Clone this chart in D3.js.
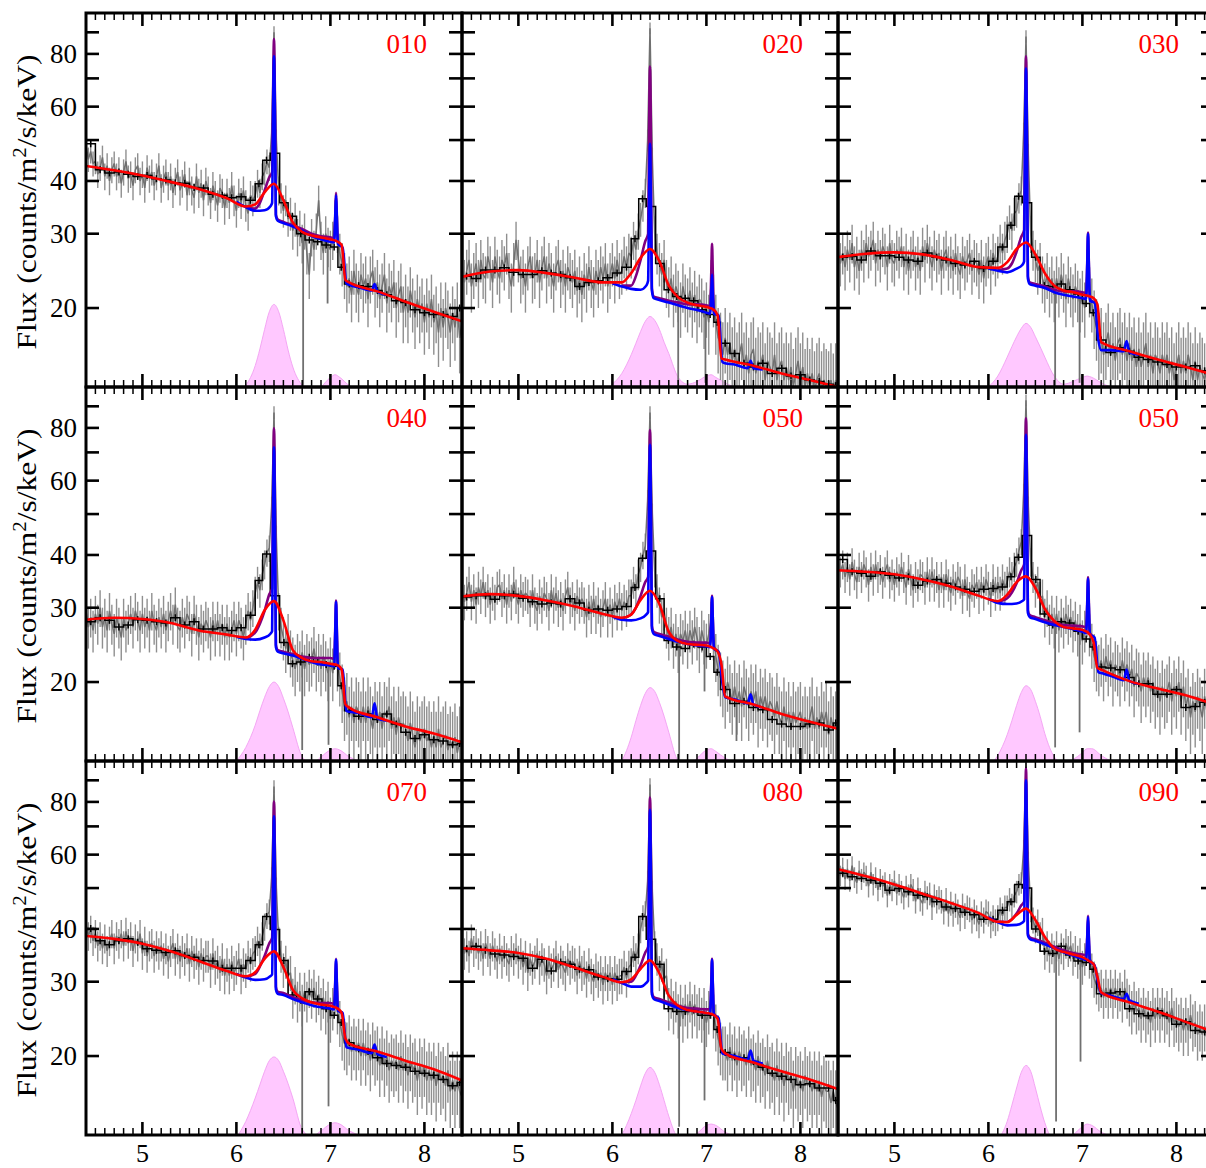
<!DOCTYPE html>
<html>
<head>
<meta charset="utf-8">
<script src="https://cdn.jsdelivr.net/npm/d3@7"></script>
<style>
  body { margin: 0; background: #fff; }
  svg { display: block; }
</style>
</head>
<body>
<svg id="fig" width="1206" height="1168" font-family="Liberation Serif, DejaVu Serif, serif"></svg>
<script>
// ---------------- data ----------------
const panelLabels = ["010", "020", "030", "040", "050", "050", "070", "080", "090"];

// energies of the plotted spectral channels (keV)
const channelKeV = [
  4.400,4.425,4.450,4.475,4.500,4.525,4.550,4.575,4.600,4.625,4.650,4.675,4.700,4.725,4.750,4.775,4.800,4.825,4.850,4.875,
  4.900,4.925,4.950,4.975,5.000,5.025,5.050,5.075,5.100,5.125,5.150,5.175,5.200,5.225,5.250,5.275,5.300,5.325,5.350,5.375,
  5.400,5.425,5.450,5.475,5.500,5.525,5.550,5.575,5.600,5.625,5.650,5.675,5.700,5.725,5.750,5.775,5.800,5.825,5.850,5.875,
  5.900,5.925,5.950,5.975,6.000,6.025,6.050,6.075,6.100,6.125,6.150,6.175,6.200,6.225,6.250,6.275,6.300,6.325,6.350,6.375,
  6.400,6.425,6.450,6.475,6.500,6.525,6.550,6.575,6.600,6.625,6.650,6.675,6.700,6.725,6.750,6.775,6.800,6.825,6.850,6.875,
  6.900,6.925,6.950,6.975,7.000,7.025,7.050,7.075,7.100,7.125,7.150,7.175,7.200,7.225,7.250,7.275,7.300,7.325,7.350,7.375,
  7.400,7.425,7.450,7.475,7.500,7.525,7.550,7.575,7.600,7.625,7.650,7.675,7.700,7.725,7.750,7.775,7.800,7.825,7.850,7.875,
  7.900,7.925,7.950,7.975,8.000,8.025,8.050,8.075,8.100,8.125,8.150,8.175,8.200,8.225,8.250,8.275,8.300,8.325,8.350,8.375,8.400];
const grayErr = 3.0; // channel error bar half-width (counts/m^2/s/keV)

const grayFlux = [
  [48.5,45,47,44, 44.5,41.5,43,45.5, 41,43.5,40,42.5, 44,41,42.5,39.5, 42,44.5,40.5,41.5, 39,42.5,43.5,40,
   41.5,38.5,43,40.5, 42,39,41,43.5, 38.5,40.5,42,39, 41,37.5,40,42, 38,39.5,41.5,37, 40,38,36.5,41,
   37.5,39.5,36,40, 38,35.5,39,37, 35,38.5,37.5,34.5, 37.5,35.5,39,36, 34,37.5,35.5,38, 35,33.5,37,36,
   37,39.5,37.5,41, 42,44.5,43,52, 90,50,38,36.5, 34,36,32.5,33.5, 30.5,32.5,29.5,31, 28.5,30.5,27,24,
   29.5,27.5,30.5,36, 29,27,30,28, 27.5,29,33,30, 27,25.5,24,22.5, 23.5,21.5,24.5,22.5, 21.5,24,22.5,23.5,
   21,23.5,24.5,22, 23,21,22.5,24, 20.5,22.5,21.5,23, 20,21.5,22.5,19.5, 21,19.5,22,20.5, 19,21,19.5,20.5,
   18.5,20.5,19,21, 18.5,19.5,17.5,20, 18,20,19,17.5, 19.5,18,20,17, 18.5],
  [25.5,23,24.5,26, 22.5,24,25.5,23, 26,24,23.5,26.5, 25,23,26.5,24.5, 23.5,26,25,27, 24,22.5,25.5,29,
   26,23.5,24.5,22.5, 25,26.5,23.5,24, 26,23,25,26.5, 23.5,25.5,24,22.5, 25,26,23,24.5, 22.5,25,24,23,
   24.5,22,23.5,21.5, 24,22.5,25,23, 22,24.5,23,25, 23.5,25.5,22.5,24, 25.5,23.5,26,24, 24.5,26.5,25,27,
   26.5,29,27.5,30.5, 32.5,35,37.5,50, 92,45,30,27, 25.5,24,26,23, 22,23.5,21,22.5, 21.5,20,22.5,21,
   20.5,22,20,21.5, 19.5,21,20.5,19, 20,18.5,23,21, 18.5,17,16.5,15.5, 17,15.5,16.5,15, 16,14.5,15.5,16.5,
   14.5,15.5,14,15.5, 16,14,15,14.5, 15.5,13.5,15,14.5, 14,15.5,13.5,14.5, 15,13.5,14.5,13.5, 14.5,13,14,15,
   13.5,14.5,13,14, 13,14,12.8,13.5, 14,12.8,13.5,13, 12.8,13.5,12.6,13.5, 13],
  [28,25.5,27,25, 27.5,26,28.5,25, 26.5,24.5,27.5,26, 28.5,26.5,27.5,29, 25.5,27.5,26,28, 27,25,28.5,26,
   25.5,27.5,26.5,28, 25,27,24.5,26.5, 27.5,25,26.5,24.5, 28,26,28.5,26.5, 25,27.5,26,27, 24.5,26.5,27.5,25,
   26.5,24.5,27,25, 24,26.5,25,26, 27,24.5,26,25.5, 24,26,23.5,25.5, 26.5,24.5,27,25.5, 26.5,28.5,27,29,
   30,32,30.5,33.5, 34,36.5,38,52, 88,46,30,27.5, 26,24.5,25.5,23.5, 22.5,24,22,23.5, 21.5,23.5,22,24,
   22.5,21,23.5,22, 21,22.5,21.5,20.5, 21.5,20,24.5,22, 20.5,19,18,16.5, 17,15.5,16.5,17.5, 15.5,16.5,15,16.5,
   17,15.5,16.5,15, 16.5,15,16,14.5, 16,14.5,15.5,16.5, 14.5,15.5,14,15.5, 15,14,15.5,14.5, 15.5,14,15,13.5,
   14.5,15.5,14,15, 14,15.5,14.5,13.5, 15,13.5,14.5,14, 13.5,14.5,13.5,14.5, 14],
  [29.5,27,28.5,26.5, 29,27.5,30,27, 28.5,26.5,29.5,27.5, 26,28.5,27,25.5, 28.5,26.5,27.5,29, 27,29.5,28,26.5,
   29,27,28.5,26.5, 29.5,27.5,26.5,28.5, 27,29,26.5,28, 29.5,27.5,30.5,27, 26.5,28.5,27,29, 28,26,29,27.5,
   25.5,27.5,26.5,28, 27,25.5,28,26, 28,26,27.5,25.5, 27.5,25.5,26.5,28, 26,28,27,25.5, 27.5,29.5,28,30,
   32.5,34.5,33,36, 38,40.5,41.5,52, 87,44,29.5,27, 25.5,24,26,23.5, 22.5,21.5,23,22, 23.5,21.5,23,22,
   22.5,24,22,23, 21.5,23,22,21, 22.5,21,24.5,22, 20.5,19,17.5,18, 16.5,17.5,16,17.5, 17,16,17.5,16,
   17.5,16.5,15.5,17, 16,17,15.5,17, 16.5,17.5,15.5,16.5, 15,16.5,15.5,16, 15.5,14.5,16,15, 14,15.5,14.5,15,
   15.5,14.5,15,14, 15,14,15.5,14, 14.5,15,13.8,14.5, 14,14.8,13.6,14.5, 14],
  [33.5,31,32.5,34.5, 31,33,30.5,33.5, 32,34.5,31.5,33, 30.5,32.5,31,33.5, 34,31.5,33,30.5, 33,31,34.5,32,
   30.5,33,31.5,32.5, 32,30,33,30.5, 29.5,32,30.5,32.5, 31.5,29.5,33,30.5, 32.5,30,31.5,29.5, 32,33.5,30.5,31.5,
   29.5,32,30.5,31.5, 30.5,28.5,31,29, 31.5,29,30.5,28.5, 30,31.5,28.5,30.5, 28.5,31,29.5,31.5, 29.5,31,30,32,
   32,34.5,33,36, 37.5,40,42,54, 87,50,36.5,33, 30.5,28.5,29.5,27, 25.5,27,24.5,26, 24,26,25,26.5,
   24.5,26.5,25,27, 25.5,24,26.5,25, 24.5,26,28,25.5, 23,21.5,20.5,19.5, 18.5,20,19,18, 19.5,18,19,17.5,
   19.5,18.5,17.5,19, 18,19,17,18.5, 17.5,18.5,17,18, 17.5,16.5,18,16.5, 16,17.5,16,17, 15.5,17,16,16.5,
   17,15.5,16.5,15.5, 16.5,17.5,15.5,16.5, 15.5,17,16,17, 15,16.5,15.5,16, 15.5],
  [39.5,36.5,38,35.5, 37.5,35,38.5,36, 34.5,37.5,35.5,38, 36.5,34,37.5,35, 38,35.5,37,34.5, 36.5,38,34.5,36,
   34,36.5,35,37.5, 35.5,33.5,37,35, 33,35.5,34,36, 35.5,33.5,36.5,34, 36.5,34,35.5,33, 35.5,33,36,34,
   32.5,35,33.5,35.5, 34.5,32,35,32.5, 31.5,34,33,34.5, 32,34.5,32.5,35, 33.5,31.5,35,32.5, 34.5,32.5,35,33.5,
   34.5,36.5,35.5,37.5, 38.5,41,43,56, 93,52,38.5,35.5, 33,34.5,31.5,32, 28.5,30,27.5,29, 27,29,26.5,28.5,
   27,29,27.5,28.5, 26.5,28,26,27.5, 25,26.5,28.5,26, 24.5,23,22,21.5, 22.5,21,23,21.5, 22.5,20.5,22,21.5,
   20.5,22.5,21,22, 20.5,21.5,19.5,21, 20.5,19,20.5,19.5, 20.5,19,20,18.5, 19.5,18,19.5,18.5, 19,20,18,19.5,
   18.5,20,18,19.5, 17.5,18.5,16.5,18, 17,18.5,17.5,16.5, 18.5,17,18.5,17, 16.5],
  [41,38.5,40,37.5, 39,36.5,38.5,36, 38,35.5,37.5,39, 36,38.5,37,39, 36.5,39.5,37,38.5, 35.5,38,36.5,39,
   35,37.5,34.5,36.5, 37,34.5,36.5,35, 36.5,34,36,33.5, 35.5,37,34,36, 33.5,35.5,34,36, 33,35.5,33.5,35,
   32.5,35,33,34.5, 34.5,32,35,32.5, 33.5,31.5,34,31, 33,31,33.5,31.5, 32.5,34,31,33, 32,34.5,33,35,
   35.5,37.5,36,38.5, 40.5,43,44,53, 87,50,37.5,34.5, 32,33.5,31,31.5, 27.5,29.5,27,28.5, 26.5,28.5,27,29,
   27.5,29,27,28, 26,27.5,25.5,27, 24.5,26,28,25.5, 24,22.5,21.5,21, 22,20.5,21.5,20.5, 21.5,20,21.5,20,
   21,19.5,21,20, 20.5,19,20.5,19, 20,18.5,19.5,19, 19.5,18.5,20,18.5, 19.5,18,19.5,18.5, 19,17.5,19,18,
   19,17.5,18.5,17.5, 18.5,17,18.5,17.5, 18,17,18.5,16.5, 17.5,16.5,17.5,16.5, 16],
  [37.5,35,36.5,34.5, 38,35.5,37,35, 36.5,34,37,35.5, 34,36.5,35,33.5, 36,33.5,35.5,34, 33,35.5,34,36,
   33.5,35,32.5,34.5, 31.5,34,32.5,33.5, 35,32.5,34,33, 31,33.5,32,33, 34.5,32,33.5,32.5, 31.5,34,32.5,33.5,
   33,31,33.5,31.5, 32.5,30.5,33,31, 30,32,30.5,31.5, 29.5,31.5,30,31.5, 29.5,31.5,30,31, 31,32.5,30.5,32.5,
   33,35.5,34,36, 40,42.5,43.5,52, 88,49,36.5,34, 31.5,33,30.5,31, 26,27.5,25.5,27, 25,26.5,24.5,26.5,
   25,27,25,26.5, 25,26,24.5,26, 24,25.5,27.5,25, 23.5,22,21,20.5, 20.5,19.5,21,19.5, 20.5,19,20.5,19.5,
   20,19,20.5,19, 19.5,18.5,20,18.5, 19,18,19.5,18, 18.5,17.5,19,17.5, 18.5,17,18.5,17.5, 18,16.5,18,17,
   17.5,16.5,18,17, 17.5,16.5,17.5,16.5, 17.5,16,17,16.5, 16.5,15.5,16.5,15.5, 15],
  [57,53.5,56,52.5, 55.5,52,56.5,53, 51.5,55,52.5,54.5, 53.5,50.5,54.5,51, 53,49.5,52.5,50.5, 51.5,48,51,49.5,
   52,48.5,51,49, 47.5,50.5,48,51, 49.5,46.5,50,47, 46,49,47.5,48.5, 45,48,46.5,47.5, 46.5,44,47,43.5,
   46,43.5,45.5,44, 42.5,45.5,43,45, 44.5,42,44,42.5, 41,43.5,42,44, 43.5,41,42.5,41.5, 42.5,44.5,43,45,
   45,47,45.5,48, 49,51,51.5,62, 97,58,44.5,42, 40,41.5,38.5,39.5, 35,36.5,34.5,36, 34.5,36.5,34,36,
   35,37,35.5,36.5, 34,35.5,33.5,35, 32.5,34,36.5,33.5, 32,30.5,29.5,28.5, 29,27.5,29,27.5, 29,27.5,29,27.5,
   28.5,27,29,27.5, 26.5,25.5,27,25.5, 26,24.5,26,24.5, 25.5,24,26,24.5, 26,24.5,26,24.5, 25.5,24,26,24,
   24.5,23.5,24.5,23, 24.5,23,25,23.5, 24,22.5,23.5,22.5, 23.5,22,23.5,22, 21.5]
];

// single-channel absorption glitches: [keV, top, bottom]
const glitchLines = [
  [[6.71, 30, 12], [6.97, 29, 20.5]],
  [[6.70, 21, 12], [6.99, 20, 13.3]],
  [[6.71, 22.5, 12], [6.97, 21.5, 13.3]],
  [[6.70, 22.5, 13.8], [6.98, 22, 14.2]],
  [[6.71, 25, 12], [6.98, 24.5, 19], [7.32, 18, 14.5]],
  [[6.71, 27.5, 14.0], [6.97, 26.5, 15.2]],
  [[6.70, 27, 12], [6.98, 26, 15.2]],
  [[6.71, 25.5, 13.6], [6.98, 25, 15.7]],
  [[6.72, 36, 14.0], [6.98, 34, 19.4]]
];

// binned spectrum (black histogram)
const histEdges = [4.4,4.5,4.6,4.7,4.8,4.9,5.0,5.1,5.2,5.3,5.4,5.5,5.6,5.7,5.8,5.9,6.0,6.1,6.2,6.28,6.36,6.46,6.55,6.64,
  6.73,6.82,6.91,7.0,7.08,7.15,7.25,7.35,7.45,7.55,7.65,7.75,7.85,7.95,8.05,8.15,8.25,8.35,8.4];
const histFlux = [
  [49,42.5,41.8,42,41.5,41,41.2,40.5,40.2,39.6,39.5,38.6,38.5,37.2,37,36.5,36.7,36,39.4,44.8,46.5,35.5,33,30,29,28.7,28.2,27.9,25,22.8,22.6,22.5,22,21.5,20.8,20.6,19.8,19.5,19.3,19.3,19.1,20],
  [23.8,23.5,24.6,24.6,24.9,24.3,24.0,24.0,24.5,24.2,24.0,23.6,22.5,23.0,23.2,23.6,24.2,25.0,29.2,36.3,34.8,25.5,22.1,21.3,21.1,20.8,19.8,19.3,18.5,16.5,15.6,14.8,14.5,14.8,14.0,14.4,13.8,13.9,13.5,13.4,13.2,13.1],
  [26.4,26.5,26.0,27.3,26.6,26.6,26.4,26.0,25.8,27.0,26.4,26.0,25.5,25.3,25.8,24.8,25.8,27.9,31.4,36.8,35.5,26.4,22.6,22.5,22.8,22.1,21.6,20.5,19.5,16.8,15.7,16.1,15.8,15.3,15.1,14.9,14.7,14.5,14.5,14.6,14.2,14.0],
  [27.8,28.4,28.0,27.0,27.3,28.1,28.0,27.8,27.6,28.4,27.3,27.8,26.7,26.7,26.9,26.5,26.9,28.8,34.8,40.2,32.0,24.8,22.1,22.3,22.9,22.3,22.0,21.8,19.6,17.1,16.6,16.8,16.3,16.8,15.9,15.2,14.7,15.0,14.6,14.5,14.2,14.3],
  [31.8,32.0,32.0,31.4,32.0,32.3,31.6,31.0,30.6,30.8,30.6,31.5,30.8,29.6,29.8,29.6,29.8,30.2,33.5,39.3,40.9,31.5,25.1,24.2,24.0,24.6,24.2,23.0,21.1,19.2,17.8,18.0,17.4,17.2,16.3,15.9,15.7,15.7,15.9,16.0,15.4,16.0],
  [39.0,36.5,36.2,35.6,36.5,35.8,35.3,35.5,33.9,34.7,35.0,34.3,33.6,33.2,32.8,33.2,33.3,33.6,35.5,39.5,44.5,35.0,29.0,27.3,27.8,27.6,26.4,25.3,24.2,21.7,21.6,21.4,20.5,19.8,19.8,18.7,18.7,19.2,17.4,17.5,17.9,17.6],
  [40.1,37.5,36.7,37.5,37.9,37.2,35.9,35.6,35.2,35.5,34.6,34.3,33.7,33.6,32.3,32.3,32.3,33.7,36.7,42.8,39.9,33.7,27.9,27.1,28.4,27.3,25.9,25.0,24.0,21.5,20.8,20.5,19.8,19.2,19.0,18.8,18.4,18.2,18.0,17.6,17.0,17.3],
  [35.9,36.4,35.6,34.9,34.7,34.4,34.1,32.3,33.9,31.8,33.4,33.0,32.1,32.0,30.8,30.5,30.4,31.7,34.3,42.8,37.8,33.0,25.9,25.5,25.5,25.7,25.0,25.0,23.1,20.4,19.9,19.8,19.4,18.8,18.2,17.9,17.6,17.1,17.2,16.8,16.8,15.7],
  [54.2,53.2,52.7,52.2,51.3,49.4,49.9,49.0,48.1,47.7,46.4,45.1,44.7,43.8,43.2,42.2,42.2,44.3,46.4,51.0,50.0,40.0,35.4,35.0,36.4,34.7,33.6,33.3,32.1,28.1,28.2,28.4,25.9,25.2,24.9,25.6,24.9,23.8,24.1,23.0,22.8,22.6]
];

// broad-line model (red)
const redKeV = [4.4,4.7,5.0,5.3,5.6,5.9,6.1,6.2,6.3,6.4,6.5,6.6,6.7,6.8,6.9,7.0,7.08,7.12,7.16,7.2,7.5,7.8,8.1,8.4];
const redFlux = [
  [43.4,42.4,41.2,39.8,38.3,36.4,34.8,35.2,37.6,39.4,36.0,31.9,30.3,29.7,29.4,29.1,28.7,28.2,23.3,23.0,21.9,20.7,19.6,18.6],
  [23.7,24.4,24.6,24.2,23.6,23.0,23.0,24.2,26.3,27.6,25.8,22.6,21.2,20.6,20.3,20.1,19.8,19.2,15.2,15.1,14.6,14.0,13.5,13.0],
  [26.4,26.9,27.1,26.8,26.0,25.0,24.9,25.7,27.6,28.6,26.8,24.2,22.6,22.0,21.8,21.5,21.3,21.1,20.4,16.6,15.8,15.1,14.5,13.9],
  [28.1,28.4,28.2,27.6,26.5,25.9,25.5,26.6,29.6,31.1,28.0,23.8,22.8,22.4,22.3,22.1,21.9,21.4,17.7,17.4,16.5,15.7,15.1,14.4],
  [31.9,32.3,32.0,31.2,30.2,29.0,28.4,28.9,31.3,32.9,30.6,26.3,25.0,24.6,24.5,24.4,24.0,23.6,22.0,18.5,17.7,16.8,16.1,15.5],
  [36.8,36.5,36.0,35.0,33.7,32.0,31.1,32.2,34.5,35.6,33.4,29.8,27.9,27.0,26.8,26.6,25.9,24.8,21.6,21.4,20.1,19.3,18.6,17.7],
  [38.5,37.9,36.9,35.4,33.6,31.8,30.9,31.6,34.0,35.4,32.5,28.7,27.4,26.8,26.5,26.3,25.9,25.3,22.0,21.4,20.5,19.5,18.6,17.5],
  [36.0,35.6,35.1,34.0,32.4,30.8,29.9,30.4,32.2,33.7,31.4,27.8,26.3,25.7,25.5,25.3,25.0,24.5,20.8,20.3,19.3,18.4,17.6,16.7],
  [55.4,53.3,51.0,48.5,46.1,43.6,41.6,41.5,43.2,44.7,42.0,38.3,36.0,35.3,34.8,34.3,33.5,33.0,30.8,28.3,26.8,25.5,24.1,22.8]
];

// narrow-line model (blue)
const blueKeV = [6.0,6.1,6.2,6.3,6.36,6.38,6.39,6.4,6.41,6.42,6.44,6.5,6.6,6.7,6.8,6.9,7.0,7.04,7.052,7.06,7.068,7.08,7.13,7.17,7.2,7.3,7.44,7.47,7.5,7.6];
const blueFlux = [
  [35.7,34.7,34.0,34.1,34.8,35.5,57,79,56,33,32.2,31.8,31.2,30.5,29.6,29.1,28.7,28.6,33,37,33,28.4,27.8,22.9,22.7,22.4,22.0,22.8,21.9,21.5],
  [22.9,22.5,22.2,22.1,22.6,23.2,36,49,35.5,22,21.1,20.9,20.6,20.3,20.0,19.8,19.5,19.4,21.7,24.0,21.7,19.4,19.2,14.9,14.8,14.7,14.4,15.0,14.4,14.3],
  [24.8,24.5,24.3,24.8,25.3,25.8,50,74,49,23.5,22.8,22.6,22.3,21.8,21.5,21.3,21.1,21.0,25.5,30.0,25.5,20.8,20.6,16.8,15.9,15.9,15.8,16.7,15.7,15.5],
  [25.6,25.3,25.2,25.5,26.0,26.4,49,72,48,24.2,23.6,23.4,23.1,22.7,22.3,22.0,21.9,21.8,26.4,31.0,26.4,21.6,21.4,17.1,17.0,16.9,16.5,17.8,16.4,16.2],
  [28.6,28.1,28.0,28.3,28.9,29.3,51,73,50,26.8,26.0,25.7,25.3,24.9,24.6,24.4,24.3,24.2,28,31.8,28,24.0,23.6,20.0,18.4,18.2,17.8,18.7,17.7,17.4],
  [31.5,30.8,30.6,30.7,31.1,31.4,54,77,53,29.2,28.5,28.2,27.7,27.3,27.0,26.7,26.3,26.1,30.6,35.1,30.6,25.9,25.5,21.1,21.0,20.7,20.2,21.4,20.1,19.8],
  [31.3,30.7,30.3,30.4,30.9,31.2,52,74,51,28.8,28.1,27.9,27.3,26.8,26.4,26.1,25.9,25.8,29.8,33.8,29.8,25.6,25.3,21.0,20.9,20.7,20.3,21.3,20.2,19.9],
  [30.4,29.8,29.2,29.2,29.8,30.2,53,76.6,52,28,27.3,27.0,26.5,26.0,25.7,25.5,25.3,25.2,29.5,33.8,29.5,25.0,24.6,20.3,20.2,20.0,19.6,20.6,19.5,19.2],
  [42.6,41.5,40.8,40.9,41.4,41.8,66,90,64,38.6,37.9,37.5,36.8,36.0,35.2,34.6,34.0,33.8,38.2,42.7,38.2,33.5,32.8,29.5,28.2,27.8,27.3,28.1,27.1,26.6]
];

// total line model (purple)
const purpleKeV = [6.1,6.2,6.25,6.3,6.35,6.38,6.39,6.4,6.41,6.42,6.44,6.5,6.6,6.7,6.8,6.9,7.0,7.04,7.052,7.06,7.068,7.08,7.13];
const purpleFlux = [
  [34.7,34.4,35.5,38,40.8,42,64,86.7,62,33.3,32.4,32.0,31.4,30.8,30.0,29.6,29.4,29.3,33.5,37.5,33.5,28.8,27.9],
  [22.6,22.6,23.8,26,28.8,30,52,74.7,50,22.3,21.3,21.1,20.8,20.6,20.4,20.4,20.3,20.2,24.3,28.4,24.3,19.6,19.2],
  [24.6,24.8,25.5,27.2,29.5,30.6,55,79,53,23.8,23.0,22.8,22.5,22.1,21.9,21.9,21.8,21.7,25.9,30.2,25.9,21.0,20.6],
  [25.4,26.2,27.5,29.5,32.3,33.3,56,79.8,54,24.5,23.8,23.6,23.3,23.0,22.8,22.8,22.8,22.7,27,31.2,27,21.8,21.4],
  [28.3,28.9,30,32,34.5,35.5,57,79.1,55,27.2,26.3,26.0,25.6,25.2,24.9,24.8,24.8,24.7,28.3,32.0,28.3,24.2,23.6],
  [31.0,31.6,32.6,34.3,36.8,38.0,61,84.3,59,29.6,28.8,28.5,28.0,27.6,27.3,27.2,27.1,27.0,31.2,35.4,31.2,26.1,25.5],
  [30.8,31.3,32.6,34.5,37,38.1,59,80.2,57,29.2,28.4,28.2,27.6,27.1,26.8,26.7,26.7,26.6,30.3,34.0,30.3,25.8,25.3],
  [29.9,30.0,31.0,32.8,35.2,36.3,59,81.9,58,28.4,27.6,27.3,26.8,26.3,26.0,25.9,25.8,25.8,29.9,34.0,29.9,25.2,24.6],
  [41.6,41.6,42.2,43.5,45.5,46.4,71,96,69,39.0,38.2,37.8,37.1,36.3,35.6,35.1,34.8,34.7,38.7,43.0,38.7,33.8,32.8]
];

// Gaussian component (pink)
const pinkKeV = [6.0,6.1,6.2,6.25,6.3,6.35,6.4,6.45,6.5,6.55,6.6,6.7,6.8,6.9,7.0,7.05,7.1,7.2,7.3,7.4];
const pinkFlux = [
  [12.5,13.1,14.6,16.0,17.8,19.6,20.4,19.6,17.8,15.9,14.5,13.1,12.6,13.0,13.7,13.9,13.7,13.1,12.8,12.5],
  [13.2,14.0,15.5,16.5,17.6,18.6,19.1,18.7,17.8,16.6,15.6,13.7,13.2,13.4,13.8,13.9,13.7,13.3,13.0,12.8],
  [13.0,13.8,15.3,16.2,17.1,17.9,18.4,18.0,17.1,16.2,15.3,13.8,13.2,13.4,13.7,13.8,13.7,13.3,13.0,12.8],
  [13.0,14.0,15.8,17.1,18.4,19.5,20.0,19.5,18.3,17.0,15.6,13.3,12.8,13.3,13.8,13.9,13.8,13.3,13.0,12.7],
  [12.2,13.0,14.8,16.2,17.6,18.8,19.4,19.0,17.9,16.6,15.2,13.0,12.7,13.2,13.8,13.9,13.7,13.2,12.9,12.6],
  [12.6,13.4,15.0,16.2,17.6,18.9,19.6,19.2,18.0,16.6,15.1,13.3,12.8,13.1,13.6,13.9,13.9,13.4,13.0,12.7],
  [12.8,14.0,15.9,17.1,18.4,19.5,19.9,19.5,18.4,17.2,15.9,13.4,12.9,13.3,13.8,13.9,13.8,13.3,13.0,12.7],
  [12.2,13.0,14.6,15.7,17.0,18.2,18.8,18.3,17.1,15.7,14.4,12.8,12.6,13.1,13.7,13.8,13.7,13.2,12.9,12.6],
  [11.8,12.6,14.0,15.3,16.8,18.3,19.0,18.4,16.8,15.2,13.9,12.6,12.5,13.0,13.6,13.8,13.7,13.2,12.9,12.5]
];

const yTickValues = [20, 30, 40, 50, 60, 70, 80, 90];
const yTickLabels = [20, 30, 40, 60, 80];
const xTickLabels = [5, 6, 7, 8];

// ---------------- layout ----------------
const FONT = "Liberation Serif, DejaVu Serif, serif";
const svg = d3.select("#fig");
const W = 376, H = 374, left0 = 86, top0 = 13;
const x = d3.scaleLinear().domain([4.4, 8.4]).range([0, W]);
const y = d3.scaleLog().domain([13, 100]).range([H, 0]);
const fontSize = 27;

const defs = svg.append("defs");
defs.append("clipPath").attr("id", "plotArea")
  .append("rect").attr("x", 0).attr("y", 0).attr("width", W).attr("height", H);

const modelLine = d3.line().x(d => x(d[0])).y(d => y(d[1])).curve(d3.curveMonotoneX);
const pairs = (xs, ys) => xs.map((v, i) => [v, ys[i]]);

panelLabels.forEach((label, p) => {
  const col = p % 3, row = Math.floor(p / 3);
  const g = svg.append("g").attr("transform", `translate(${left0 + col * W},${top0 + row * H})`);
  const plot = g.append("g").attr("clip-path", "url(#plotArea)");

  // Gaussian component
  plot.append("path")
    .datum(pairs(pinkKeV, pinkFlux[p]))
    .attr("d", d3.area().x(d => x(d[0])).y0(H).y1(d => y(d[1])).curve(d3.curveMonotoneX))
    .attr("fill", "#ffc8ff").attr("stroke", "#f4a6f4").attr("stroke-width", 1);

  // channel data with error bars
  const pts = pairs(channelKeV, grayFlux[p]);
  plot.append("g").selectAll("line").data(pts).join("line")
    .attr("x1", d => x(d[0])).attr("x2", d => x(d[0]))
    .attr("y1", d => y(d[1] - grayErr)).attr("y2", d => y(d[1] + grayErr))
    .attr("stroke", "#8f8f8f").attr("stroke-width", 1.4);
  plot.append("path").datum(pts)
    .attr("d", d3.line().x(d => x(d[0])).y(d => y(d[1])))
    .attr("fill", "none").attr("stroke", "#707070").attr("stroke-width", 1.5)
    .attr("stroke-linejoin", "bevel");
  plot.append("g").selectAll("line").data(glitchLines[p]).join("line")
    .attr("x1", d => x(d[0])).attr("x2", d => x(d[0]))
    .attr("y1", d => y(d[1])).attr("y2", d => y(d[2]))
    .attr("stroke", "#707070").attr("stroke-width", 1.8);

  // binned spectrum
  const hv = histFlux[p];
  const steps = histEdges.map((e, i) => [e, hv[Math.min(i, hv.length - 1)]]);
  plot.append("path").datum(steps)
    .attr("d", d3.line().x(d => x(d[0])).y(d => y(d[1])).curve(d3.curveStepAfter))
    .attr("fill", "none").attr("stroke", "#000").attr("stroke-width", 1.5);
  plot.append("g").selectAll("line").data(hv.map((v, i) => [(histEdges[i] + histEdges[i + 1]) / 2, v])).join("line")
    .attr("x1", d => x(d[0])).attr("x2", d => x(d[0]))
    .attr("y1", d => y(d[1]) - 3.5).attr("y2", d => y(d[1]) + 3.5)
    .attr("stroke", "#000").attr("stroke-width", 1.5);

  // models
  plot.append("path").datum(pairs(purpleKeV, purpleFlux[p])).attr("d", modelLine)
    .attr("fill", "none").attr("stroke", "#800080").attr("stroke-width", 2.6);
  plot.append("path").datum(pairs(blueKeV, blueFlux[p])).attr("d", modelLine)
    .attr("fill", "none").attr("stroke", "#0000ff").attr("stroke-width", 2.6);
  plot.append("path").datum(pairs(redKeV, redFlux[p])).attr("d", modelLine)
    .attr("fill", "none").attr("stroke", "#ff0000").attr("stroke-width", 2.6);

  // ticks (inward on all four sides)
  const ax = g.append("g").attr("stroke", "#000");
  d3.range(45, 84).forEach(k => {
    const t = k / 10, major = k % 10 === 0, len = major ? 13 : 7;
    const px = x(t);
    ax.append("line").attr("x1", px).attr("x2", px).attr("y1", H).attr("y2", H - len)
      .attr("stroke-width", major ? 2.6 : 1.5);
    ax.append("line").attr("x1", px).attr("x2", px).attr("y1", 0).attr("y2", len)
      .attr("stroke-width", major ? 2.6 : 1.5);
  });
  yTickValues.forEach(v => {
    const py = y(v);
    ax.append("line").attr("x1", 0).attr("x2", 13).attr("y1", py).attr("y2", py).attr("stroke-width", 2.6);
    ax.append("line").attr("x1", W).attr("x2", W - 13).attr("y1", py).attr("y2", py).attr("stroke-width", 2.6);
  });

  g.append("rect").attr("width", W).attr("height", H)
    .attr("fill", "none").attr("stroke", "#000").attr("stroke-width", 3);

  g.append("text").attr("x", W - 35).attr("y", 40).attr("text-anchor", "end")
    .attr("font-family", FONT).attr("fill", "#ff0000").attr("font-size", fontSize).text(label);

  if (col === 0) {
    yTickLabels.forEach(v => {
      g.append("text").attr("x", -9).attr("y", y(v)).attr("dy", "0.35em")
        .attr("font-family", FONT).attr("text-anchor", "end").attr("font-size", fontSize).text(v);
    });
    const yl = g.append("text")
      .attr("transform", `translate(${36 - left0},${H / 2 + 2}) rotate(-90)`)
      .attr("font-family", FONT).attr("text-anchor", "middle").attr("font-size", fontSize)
      .attr("textLength", 295).attr("lengthAdjust", "spacingAndGlyphs");
    yl.append("tspan").text("Flux (counts/m");
    yl.append("tspan").attr("baseline-shift", "super").attr("font-size", 18).text("2");
    yl.append("tspan").text("/s/keV)");
  }
  if (row === 2) {
    xTickLabels.forEach(v => {
      g.append("text").attr("x", x(v)).attr("y", H + 27)
        .attr("font-family", FONT).attr("text-anchor", "middle").attr("font-size", 26).text(v);
    });
  }
});
</script>
</body>
</html>
